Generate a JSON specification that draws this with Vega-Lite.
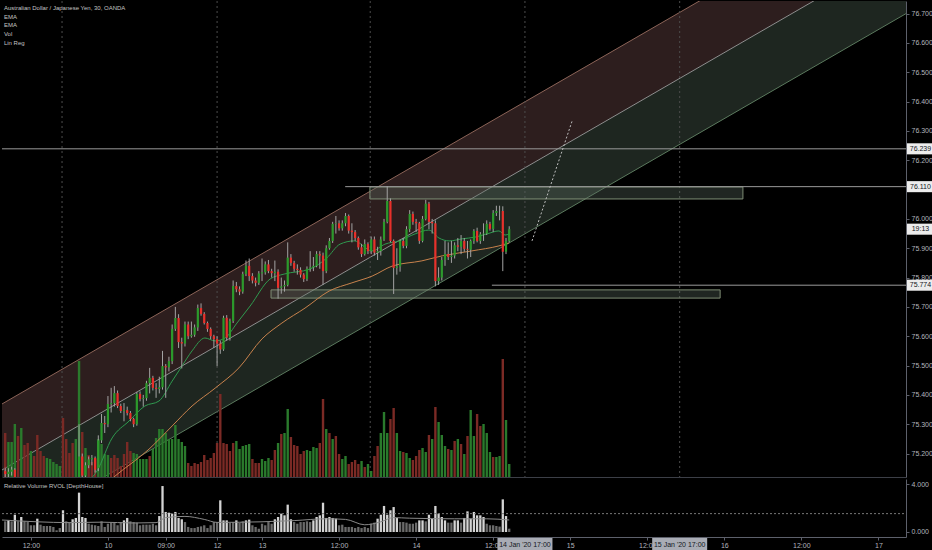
{
"$schema":"https://vega.github.io/schema/vega-lite/v6.json",
"background":"#000000",
"padding":0,
"spacing":1,
"config":{"view":{"stroke":null},"font":"Liberation Sans","scale":{"continuousPadding":0},"axis":{"labelColor":"#b2b5be","labelFontSize":7,"labelFont":"Liberation Sans","tickColor":"#5d606b","domainColor":"#5d606b","grid":false},"axisY":{"labelOverlap":false}},
"datasets":{
"k":[
{"b":0,"o":75.140,"h":75.152,"l":75.120,"c":75.130,"v":440,"d":"d","r":0.89},
{"b":1,"o":75.130,"h":75.150,"l":75.115,"c":75.138,"v":350,"d":"u","r":0.97},
{"b":2,"o":75.138,"h":75.155,"l":75.125,"c":75.145,"v":350,"d":"u","r":0.89},
{"b":3,"o":75.145,"h":75.150,"l":75.105,"c":75.110,"v":530,"d":"u","r":1.44},
{"b":4,"o":75.110,"h":75.118,"l":75.090,"c":75.095,"v":410,"d":"d","r":0.89},
{"b":5,"o":75.095,"h":75.110,"l":75.085,"c":75.105,"v":490,"d":"u","r":1.25},
{"b":6,"o":75.105,"h":75.110,"l":75.082,"c":75.090,"v":320,"d":"d","r":0.89},
{"b":7,"o":75.090,"h":75.095,"l":75.070,"c":75.078,"v":340,"d":"d","r":0.83},
{"b":8,"o":75.078,"h":75.092,"l":75.072,"c":75.088,"v":260,"d":"u","r":0.56},
{"b":9,"o":75.088,"h":75.092,"l":75.068,"c":75.075,"v":210,"d":"d","r":0.56},
{"b":10,"o":75.075,"h":75.080,"l":75.050,"c":75.058,"v":420,"d":"d","r":1.11},
{"b":11,"o":75.058,"h":75.064,"l":75.040,"c":75.048,"v":260,"d":"d","r":0.61},
{"b":12,"o":75.048,"h":75.056,"l":75.035,"c":75.042,"v":210,"d":"d","r":0.5},
{"b":13,"o":75.042,"h":75.056,"l":75.036,"c":75.050,"v":190,"d":"u","r":0.5},
{"b":14,"o":75.050,"h":75.064,"l":75.045,"c":75.058,"v":180,"d":"u","r":0.5},
{"b":15,"o":75.058,"h":75.070,"l":75.052,"c":75.064,"v":150,"d":"u","r":0.42},
{"b":16,"o":75.064,"h":75.076,"l":75.058,"c":75.070,"v":130,"d":"u","r":0.14},
{"b":17,"o":75.070,"h":75.080,"l":75.064,"c":75.074,"v":110,"d":"u","r":0.33},
{"b":18,"o":75.074,"h":75.082,"l":75.040,"c":75.050,"v":590,"d":"d","r":1.81},
{"b":19,"o":75.050,"h":75.058,"l":75.030,"c":75.040,"v":380,"d":"d","r":0.89},
{"b":20,"o":75.040,"h":75.048,"l":75.026,"c":75.035,"v":240,"d":"d","r":0.83},
{"b":21,"o":75.035,"h":75.042,"l":75.020,"c":75.030,"v":340,"d":"d","r":1.06},
{"b":22,"o":75.030,"h":75.068,"l":75.025,"c":75.060,"v":380,"d":"u","r":1.17},
{"b":23,"o":75.060,"h":75.300,"l":75.055,"c":75.190,"v":1160,"d":"u","r":3.28},
{"b":24,"o":75.190,"h":75.200,"l":75.110,"c":75.125,"v":450,"d":"d","r":1.25},
{"b":25,"o":75.125,"h":75.170,"l":75.115,"c":75.160,"v":290,"d":"u","r":1.17},
{"b":26,"o":75.160,"h":75.190,"l":75.150,"c":75.180,"v":220,"d":"d","r":0.69},
{"b":27,"o":75.180,"h":75.195,"l":75.160,"c":75.185,"v":150,"d":"d","r":0.61},
{"b":28,"o":75.185,"h":75.190,"l":75.135,"c":75.145,"v":180,"d":"d","r":0.56},
{"b":29,"o":75.150,"h":75.262,"l":75.140,"c":75.245,"v":380,"d":"u","r":0.5},
{"b":30,"o":75.245,"h":75.335,"l":75.236,"c":75.304,"v":330,"d":"u","r":0.89},
{"b":31,"o":75.304,"h":75.328,"l":75.270,"c":75.300,"v":230,"d":"u","r":0.42},
{"b":32,"o":75.300,"h":75.396,"l":75.290,"c":75.369,"v":220,"d":"u","r":0.69},
{"b":33,"o":75.369,"h":75.424,"l":75.340,"c":75.372,"v":190,"d":"d","r":0.78},
{"b":34,"o":75.372,"h":75.430,"l":75.360,"c":75.406,"v":220,"d":"d","r":0.78},
{"b":35,"o":75.406,"h":75.415,"l":75.355,"c":75.362,"v":190,"d":"d","r":0.56},
{"b":36,"o":75.362,"h":75.370,"l":75.338,"c":75.345,"v":110,"d":"d","r":0.83},
{"b":37,"o":75.345,"h":75.372,"l":75.310,"c":75.348,"v":230,"d":"d","r":0.97},
{"b":38,"o":75.348,"h":75.360,"l":75.330,"c":75.338,"v":350,"d":"d","r":1.17},
{"b":39,"o":75.338,"h":75.345,"l":75.310,"c":75.318,"v":260,"d":"d","r":0.89},
{"b":40,"o":75.318,"h":75.322,"l":75.290,"c":75.300,"v":240,"d":"u","r":0.83},
{"b":41,"o":75.300,"h":75.410,"l":75.295,"c":75.403,"v":230,"d":"u","r":0.78},
{"b":42,"o":75.403,"h":75.412,"l":75.378,"c":75.386,"v":180,"d":"u","r":0.56},
{"b":43,"o":75.386,"h":75.400,"l":75.360,"c":75.389,"v":180,"d":"u","r":0.61},
{"b":44,"o":75.389,"h":75.448,"l":75.380,"c":75.440,"v":180,"d":"u","r":0.61},
{"b":45,"o":75.440,"h":75.492,"l":75.405,"c":75.458,"v":210,"d":"d","r":0.61},
{"b":46,"o":75.458,"h":75.465,"l":75.415,"c":75.424,"v":280,"d":"u","r":0.69},
{"b":47,"o":75.424,"h":75.440,"l":75.390,"c":75.420,"v":390,"d":"u","r":0.56},
{"b":48,"o":75.420,"h":75.462,"l":75.405,"c":75.426,"v":480,"d":"u","r":1.33},
{"b":49,"o":75.426,"h":75.550,"l":75.418,"c":75.498,"v":480,"d":"u","r":3.83},
{"b":50,"o":75.498,"h":75.505,"l":75.390,"c":75.494,"v":440,"d":"u","r":1.67},
{"b":51,"o":75.494,"h":75.530,"l":75.480,"c":75.515,"v":380,"d":"u","r":1.61},
{"b":52,"o":75.515,"h":75.640,"l":75.505,"c":75.625,"v":380,"d":"u","r":1.53},
{"b":53,"o":75.625,"h":75.700,"l":75.618,"c":75.662,"v":520,"d":"u","r":1.67},
{"b":54,"o":75.662,"h":75.675,"l":75.560,"c":75.580,"v":380,"d":"u","r":1.17},
{"b":55,"o":75.580,"h":75.595,"l":75.490,"c":75.575,"v":350,"d":"u","r":1.06},
{"b":56,"o":75.575,"h":75.650,"l":75.565,"c":75.640,"v":310,"d":"u","r":0.83},
{"b":57,"o":75.640,"h":75.650,"l":75.590,"c":75.600,"v":140,"d":"d","r":0.42},
{"b":58,"o":75.600,"h":75.650,"l":75.595,"c":75.605,"v":110,"d":"d","r":0.33},
{"b":59,"o":75.605,"h":75.640,"l":75.598,"c":75.630,"v":140,"d":"d","r":0.33},
{"b":60,"o":75.630,"h":75.708,"l":75.618,"c":75.696,"v":130,"d":"d","r":0.42},
{"b":61,"o":75.696,"h":75.712,"l":75.670,"c":75.676,"v":150,"d":"d","r":0.47},
{"b":62,"o":75.676,"h":75.682,"l":75.640,"c":75.645,"v":220,"d":"d","r":0.56},
{"b":63,"o":75.645,"h":75.650,"l":75.615,"c":75.625,"v":170,"d":"d","r":0.33},
{"b":64,"o":75.625,"h":75.630,"l":75.590,"c":75.600,"v":190,"d":"d","r":0.56},
{"b":65,"o":75.600,"h":75.605,"l":75.560,"c":75.590,"v":240,"d":"d","r":0.83},
{"b":66,"o":75.590,"h":75.600,"l":75.498,"c":75.575,"v":340,"d":"d","r":0.83},
{"b":67,"o":75.575,"h":75.585,"l":75.540,"c":75.555,"v":830,"d":"d","r":2.64},
{"b":68,"o":75.555,"h":75.670,"l":75.550,"c":75.663,"v":340,"d":"d","r":0.97},
{"b":69,"o":75.663,"h":75.672,"l":75.585,"c":75.595,"v":330,"d":"d","r":0.97},
{"b":70,"o":75.595,"h":75.660,"l":75.585,"c":75.652,"v":260,"d":"d","r":0.78},
{"b":71,"o":75.652,"h":75.790,"l":75.645,"c":75.771,"v":340,"d":"d","r":0.83},
{"b":72,"o":75.771,"h":75.785,"l":75.750,"c":75.760,"v":360,"d":"u","r":0.97},
{"b":73,"o":75.760,"h":75.770,"l":75.740,"c":75.752,"v":280,"d":"u","r":0.78},
{"b":74,"o":75.752,"h":75.820,"l":75.745,"c":75.812,"v":310,"d":"u","r":0.89},
{"b":75,"o":75.812,"h":75.858,"l":75.805,"c":75.840,"v":320,"d":"u","r":0.97},
{"b":76,"o":75.840,"h":75.865,"l":75.788,"c":75.805,"v":330,"d":"u","r":1.03},
{"b":77,"o":75.805,"h":75.815,"l":75.780,"c":75.790,"v":180,"d":"d","r":0.56},
{"b":78,"o":75.790,"h":75.800,"l":75.770,"c":75.782,"v":140,"d":"d","r":0.42},
{"b":79,"o":75.782,"h":75.822,"l":75.775,"c":75.814,"v":140,"d":"d","r":0.28},
{"b":80,"o":75.814,"h":75.865,"l":75.788,"c":75.818,"v":180,"d":"u","r":0.69},
{"b":81,"o":75.818,"h":75.855,"l":75.810,"c":75.845,"v":160,"d":"u","r":0.56},
{"b":82,"o":75.845,"h":75.860,"l":75.815,"c":75.822,"v":190,"d":"u","r":0.83},
{"b":83,"o":75.822,"h":75.830,"l":75.800,"c":75.815,"v":170,"d":"d","r":0.69},
{"b":84,"o":75.815,"h":75.858,"l":75.788,"c":75.820,"v":270,"d":"d","r":1.06},
{"b":85,"o":75.820,"h":75.828,"l":75.728,"c":75.765,"v":340,"d":"u","r":1.25},
{"b":86,"o":75.765,"h":75.800,"l":75.745,"c":75.770,"v":430,"d":"d","r":1.53},
{"b":87,"o":75.770,"h":75.790,"l":75.752,"c":75.775,"v":440,"d":"u","r":1.39},
{"b":88,"o":75.775,"h":75.920,"l":75.770,"c":75.868,"v":680,"d":"u","r":2.28},
{"b":89,"o":75.868,"h":75.880,"l":75.840,"c":75.850,"v":400,"d":"d","r":1.06},
{"b":90,"o":75.850,"h":75.857,"l":75.820,"c":75.830,"v":320,"d":"d","r":0.83},
{"b":91,"o":75.830,"h":75.845,"l":75.810,"c":75.826,"v":310,"d":"d","r":0.69},
{"b":92,"o":75.826,"h":75.835,"l":75.800,"c":75.810,"v":230,"d":"d","r":0.83},
{"b":93,"o":75.810,"h":75.815,"l":75.785,"c":75.795,"v":260,"d":"d","r":0.83},
{"b":94,"o":75.795,"h":75.838,"l":75.788,"c":75.830,"v":270,"d":"u","r":0.89},
{"b":95,"o":75.830,"h":75.890,"l":75.820,"c":75.835,"v":260,"d":"u","r":0.83},
{"b":96,"o":75.835,"h":75.870,"l":75.822,"c":75.840,"v":300,"d":"u","r":0.97},
{"b":97,"o":75.840,"h":75.890,"l":75.835,"c":75.880,"v":290,"d":"u","r":1.25},
{"b":98,"o":75.880,"h":75.890,"l":75.830,"c":75.875,"v":340,"d":"d","r":1.39},
{"b":99,"o":75.875,"h":75.885,"l":75.775,"c":75.822,"v":780,"d":"d","r":2.44},
{"b":100,"o":75.822,"h":75.910,"l":75.815,"c":75.900,"v":480,"d":"u","r":1.17},
{"b":101,"o":75.900,"h":75.935,"l":75.895,"c":75.925,"v":440,"d":"d","r":1.25},
{"b":102,"o":75.925,"h":75.990,"l":75.918,"c":75.983,"v":380,"d":"u","r":1.17},
{"b":103,"o":75.983,"h":76.010,"l":75.950,"c":75.985,"v":410,"d":"d","r":1.11},
{"b":104,"o":75.985,"h":75.995,"l":75.960,"c":75.968,"v":230,"d":"d","r":0.56},
{"b":105,"o":75.968,"h":75.995,"l":75.960,"c":75.985,"v":180,"d":"u","r":0.61},
{"b":106,"o":75.985,"h":76.020,"l":75.975,"c":76.010,"v":210,"d":"u","r":0.42},
{"b":107,"o":76.010,"h":76.015,"l":75.950,"c":75.960,"v":130,"d":"d","r":0.42},
{"b":108,"o":75.960,"h":75.985,"l":75.920,"c":75.955,"v":150,"d":"d","r":0.42},
{"b":109,"o":75.955,"h":75.962,"l":75.925,"c":75.935,"v":170,"d":"d","r":0.33},
{"b":110,"o":75.935,"h":75.940,"l":75.895,"c":75.903,"v":130,"d":"d","r":0.42},
{"b":111,"o":75.903,"h":75.915,"l":75.870,"c":75.880,"v":160,"d":"u","r":0.33},
{"b":112,"o":75.880,"h":75.930,"l":75.875,"c":75.914,"v":100,"d":"d","r":0.42},
{"b":113,"o":75.914,"h":75.920,"l":75.880,"c":75.890,"v":130,"d":"u","r":0.33},
{"b":114,"o":75.890,"h":75.940,"l":75.880,"c":75.930,"v":60,"d":"u","r":0.69},
{"b":115,"o":75.930,"h":75.940,"l":75.875,"c":75.885,"v":210,"d":"d","r":0.78},
{"b":116,"o":75.885,"h":75.905,"l":75.860,"c":75.890,"v":310,"d":"d","r":1.11},
{"b":117,"o":75.890,"h":75.940,"l":75.875,"c":75.930,"v":440,"d":"u","r":1.44},
{"b":118,"o":75.930,"h":76.000,"l":75.925,"c":75.990,"v":650,"d":"u","r":2.17},
{"b":119,"o":75.990,"h":76.112,"l":75.985,"c":76.061,"v":440,"d":"u","r":1.44},
{"b":120,"o":76.061,"h":76.070,"l":75.920,"c":75.925,"v":580,"d":"d","r":1.81},
{"b":121,"o":75.925,"h":75.930,"l":75.744,"c":75.833,"v":690,"d":"d","r":2.08},
{"b":122,"o":75.833,"h":75.900,"l":75.810,"c":75.838,"v":440,"d":"u","r":1.17},
{"b":123,"o":75.838,"h":75.930,"l":75.820,"c":75.925,"v":260,"d":"u","r":0.83},
{"b":124,"o":75.925,"h":75.935,"l":75.900,"c":75.908,"v":250,"d":"d","r":0.83},
{"b":125,"o":75.908,"h":75.975,"l":75.900,"c":75.965,"v":240,"d":"u","r":0.78},
{"b":126,"o":75.965,"h":76.030,"l":75.955,"c":76.017,"v":190,"d":"u","r":0.69},
{"b":127,"o":76.017,"h":76.025,"l":75.980,"c":75.990,"v":170,"d":"d","r":0.69},
{"b":128,"o":75.990,"h":76.000,"l":75.955,"c":75.985,"v":210,"d":"d","r":0.78},
{"b":129,"o":75.985,"h":75.990,"l":75.915,"c":75.925,"v":270,"d":"d","r":0.97},
{"b":130,"o":75.925,"h":76.010,"l":75.920,"c":76.000,"v":290,"d":"u","r":0.97},
{"b":131,"o":76.000,"h":76.065,"l":75.995,"c":76.052,"v":250,"d":"u","r":0.89},
{"b":132,"o":76.052,"h":76.058,"l":75.965,"c":75.990,"v":420,"d":"d","r":1.44},
{"b":133,"o":75.990,"h":76.000,"l":75.950,"c":75.985,"v":380,"d":"u","r":1.11},
{"b":134,"o":75.985,"h":75.995,"l":75.770,"c":75.788,"v":700,"d":"d","r":2.17},
{"b":135,"o":75.788,"h":75.835,"l":75.775,"c":75.800,"v":550,"d":"u","r":1.53},
{"b":136,"o":75.800,"h":75.870,"l":75.790,"c":75.860,"v":420,"d":"u","r":1.25},
{"b":137,"o":75.860,"h":75.925,"l":75.840,"c":75.880,"v":310,"d":"u","r":0.97},
{"b":138,"o":75.880,"h":75.920,"l":75.860,"c":75.870,"v":280,"d":"d","r":0.78},
{"b":139,"o":75.870,"h":75.925,"l":75.850,"c":75.875,"v":270,"d":"u","r":0.78},
{"b":140,"o":75.875,"h":75.920,"l":75.865,"c":75.910,"v":360,"d":"d","r":0.97},
{"b":141,"o":75.910,"h":75.935,"l":75.890,"c":75.905,"v":380,"d":"u","r":0.97},
{"b":142,"o":75.905,"h":75.945,"l":75.880,"c":75.925,"v":330,"d":"d","r":0.78},
{"b":143,"o":75.925,"h":75.935,"l":75.888,"c":75.898,"v":230,"d":"u","r":1.17},
{"b":144,"o":75.898,"h":75.925,"l":75.865,"c":75.895,"v":410,"d":"d","r":1.72},
{"b":145,"o":75.895,"h":75.930,"l":75.870,"c":75.925,"v":670,"d":"u","r":1.11},
{"b":146,"o":75.925,"h":75.965,"l":75.915,"c":75.959,"v":410,"d":"u","r":1.67},
{"b":147,"o":75.959,"h":75.970,"l":75.920,"c":75.925,"v":630,"d":"d","r":1.39},
{"b":148,"o":75.925,"h":75.955,"l":75.915,"c":75.948,"v":510,"d":"d","r":1.39},
{"b":149,"o":75.948,"h":75.985,"l":75.925,"c":75.950,"v":530,"d":"u","r":1.25},
{"b":150,"o":75.950,"h":75.995,"l":75.945,"c":75.983,"v":440,"d":"u","r":0.69},
{"b":151,"o":75.983,"h":75.990,"l":75.960,"c":75.966,"v":250,"d":"u","r":0.56},
{"b":152,"o":75.966,"h":76.030,"l":75.955,"c":76.020,"v":200,"d":"d","r":0.56},
{"b":153,"o":76.020,"h":76.045,"l":76.010,"c":76.027,"v":200,"d":"u","r":0.5},
{"b":154,"o":76.027,"h":76.045,"l":75.995,"c":76.027,"v":210,"d":"u","r":0.45},
{"b":155,"o":76.027,"h":76.043,"l":75.822,"c":75.888,"v":1180,"d":"d","r":2.72},
{"b":156,"o":75.888,"h":75.935,"l":75.880,"c":75.925,"v":570,"d":"u","r":1.33},
{"b":157,"o":75.925,"h":75.975,"l":75.920,"c":75.965,"v":130,"d":"u","r":0.28}
],
"ch":[{"b":-1,"u":75.369,"m":75.144,"lo":74.919},{"b":280.6,"u":77.150,"m":76.925,"lo":76.700}],
"ef":[{"b":-1,"e":75.09},{"b":12,"e":75.07},{"b":20,"e":75.06},{"b":25,"e":75.095},{"b":28.6,"e":75.141},{"b":33.3,"e":75.253},{"b":38.6,"e":75.311},{"b":43.5,"e":75.362},{"b":47.9,"e":75.379},{"b":52,"e":75.447},{"b":55.1,"e":75.499},{"b":58.2,"e":75.55},{"b":62.2,"e":75.594},{"b":65.4,"e":75.584},{"b":68.5,"e":75.594},{"b":72.2,"e":75.645},{"b":76.3,"e":75.703},{"b":82.5,"e":75.795},{"b":86.9,"e":75.812},{"b":94.9,"e":75.829},{"b":100.2,"e":75.867},{"b":104.3,"e":75.914},{"b":108.7,"e":75.925},{"b":114.3,"e":75.891},{"b":118.3,"e":75.914},{"b":122.7,"e":75.925},{"b":127.7,"e":75.949},{"b":132,"e":75.962},{"b":135.1,"e":75.935},{"b":138.3,"e":75.925},{"b":142.3,"e":75.932},{"b":146.4,"e":75.938},{"b":150.1,"e":75.949},{"b":153.8,"e":75.959},{"b":155.7,"e":75.945},{"b":157,"e":75.949}],
"es":[{"b":-1,"e":74.9},{"b":20,"e":74.98},{"b":34.2,"e":75.123},{"b":44.8,"e":75.215},{"b":52,"e":75.294},{"b":58.2,"e":75.362},{"b":65.4,"e":75.423},{"b":72.8,"e":75.492},{"b":80,"e":75.591},{"b":86.2,"e":75.645},{"b":93.4,"e":75.696},{"b":100.9,"e":75.754},{"b":108,"e":75.782},{"b":114.3,"e":75.805},{"b":120.5,"e":75.839},{"b":129.8,"e":75.857},{"b":136.1,"e":75.874},{"b":145.4,"e":75.891},{"b":153.8,"e":75.908},{"b":157,"e":75.918}],
"hl":[{"b":-1,"p":76.239},{"b":105.9,"p":76.110},{"b":151.6,"p":75.774}],
"bx":[{"p":76.239,"t":"76.239"},{"p":76.110,"t":"76.110"},{"p":75.965,"t":"19:13"},{"p":75.774,"t":"75.774"}],
"rc":[{"b":113.6,"b2":229.8,"p":76.109,"p2":76.068},{"b":82.8,"b2":222.7,"p":75.758,"p2":75.730}],
"pj":[{"b":164.1,"p":75.925},{"b":176.6,"p":76.334}],
"ss":[{"b":17.7},{"b":66},{"b":113.7},{"b":161.9},{"b":210.1}],
"rva":[{"b":-1,"a":1.0},{"b":10,"a":0.85},{"b":20,"a":0.78},{"b":30,"a":0.82},{"b":40,"a":0.75},{"b":47,"a":0.78},{"b":50,"a":1.2},{"b":56,"a":1.3},{"b":62,"a":1.05},{"b":66,"a":0.8},{"b":80,"a":0.85},{"b":90,"a":0.95},{"b":100,"a":1.1},{"b":106,"a":1.05},{"b":112,"a":0.6},{"b":117,"a":0.85},{"b":121,"a":1.2},{"b":126,"a":1.15},{"b":140,"a":1.1},{"b":150,"a":1.1},{"b":157,"a":1.0}],
"db":[{"b":161.9,"t":"14 Jan '20    17:00"},{"b":210.1,"t":"15 Jan '20    17:00"}]
},
"resolve":{"scale":{"x":"independent","y":"independent"}},
"vconcat":[
{
"width":904,"height":476,
"resolve":{"scale":{"y":"independent"}},
"layer":[
{"layer":[
{"data":{"name":"ch"},"mark":{"type":"area","clip":true,"color":"#2d1e1e","opacity":1},"encoding":{"x":{"field":"b","type":"quantitative","scale":{"domain":[-1,280.6],"nice":false,"zero":false,"padding":0},"axis":{"labels":false,"ticks":false,"domainColor":"#3c3f47","title":null}},"y":{"field":"u","type":"quantitative","scale":{"domain":[75.12,76.743],"nice":false,"zero":false},"axis":null},"y2":{"field":"m"}}},
{"data":{"name":"ch"},"mark":{"type":"area","clip":true,"color":"#1e2620","opacity":1},"encoding":{"x":{"field":"b","type":"quantitative","scale":{"domain":[-1,280.6],"nice":false,"zero":false,"padding":0},"axis":{"labels":false,"ticks":false,"domainColor":"#3c3f47","title":null}},"y":{"field":"m","type":"quantitative","axis":null},"y2":{"field":"lo"}}},
{"data":{"name":"ch"},"mark":{"type":"line","clip":true,"color":"#8c6458","strokeWidth":1},"encoding":{"x":{"field":"b","type":"quantitative","scale":{"domain":[-1,280.6],"nice":false,"zero":false,"padding":0},"axis":{"labels":false,"ticks":false,"domainColor":"#3c3f47","title":null}},"y":{"field":"u","type":"quantitative","axis":null}}},
{"data":{"name":"ch"},"mark":{"type":"line","clip":true,"color":"#8f8f8f","strokeWidth":1},"encoding":{"x":{"field":"b","type":"quantitative","scale":{"domain":[-1,280.6],"nice":false,"zero":false,"padding":0},"axis":{"labels":false,"ticks":false,"domainColor":"#3c3f47","title":null}},"y":{"field":"m","type":"quantitative","axis":null}}},
{"data":{"name":"ch"},"mark":{"type":"line","clip":true,"color":"#5b7a5e","strokeWidth":1},"encoding":{"x":{"field":"b","type":"quantitative","scale":{"domain":[-1,280.6],"nice":false,"zero":false,"padding":0},"axis":{"labels":false,"ticks":false,"domainColor":"#3c3f47","title":null}},"y":{"field":"lo","type":"quantitative","axis":null}}},
{"data":{"name":"ss"},"mark":{"type":"rule","color":"#4d4d4d","strokeDash":[2,3],"strokeWidth":1},"encoding":{"x":{"field":"b","type":"quantitative","scale":{"domain":[-1,280.6],"nice":false,"zero":false,"padding":0},"axis":{"labels":false,"ticks":false,"domainColor":"#3c3f47","title":null}}}}
]},
{"data":{"name":"k"},"mark":{"type":"bar","size":2.4,"orient":"vertical"},"encoding":{"x":{"field":"b","type":"quantitative","scale":{"domain":[-1,280.6],"nice":false,"zero":false,"padding":0},"axis":{"labels":false,"ticks":false,"domainColor":"#3c3f47","title":null}},"y":{"field":"v","type":"quantitative","scale":{"domain":[0,4760],"nice":false},"axis":null},"color":{"condition":{"test":"datum.d=='u'","value":"#2a7a2c"},"value":"#7b2a25"}}},
{"layer":[
{"data":{"name":"rc"},"mark":{"type":"rect","fill":"#5d6e60","fillOpacity":0.35,"stroke":"#7e8d74","strokeWidth":1},"encoding":{"x":{"field":"b","type":"quantitative","scale":{"domain":[-1,280.6],"nice":false,"zero":false,"padding":0},"axis":{"labels":false,"ticks":false,"domainColor":"#3c3f47","title":null}},"x2":{"field":"b2"},"y":{"field":"p","type":"quantitative","scale":{"domain":[75.12,76.743],"nice":false,"zero":false},"axis":{"orient":"right","title":null,"values":[75.2,75.3,75.4,75.5,75.6,75.7,75.8,75.9,76.0,76.1,76.2,76.3,76.4,76.5,76.6,76.7],"format":".3f","tickSize":3,"labelPadding":2,"labelOverlap":false}},"y2":{"field":"p2"}}},
{"data":{"name":"hl"},"mark":{"type":"rule","color":"#9a9a9a","strokeWidth":1},"encoding":{"x":{"field":"b","type":"quantitative","scale":{"domain":[-1,280.6],"nice":false,"zero":false,"padding":0},"axis":{"labels":false,"ticks":false,"domainColor":"#3c3f47","title":null}},"x2":{"datum":280.6},"y":{"field":"p","type":"quantitative","axis":{"orient":"right","title":null,"values":[75.2,75.3,75.4,75.5,75.6,75.7,75.8,75.9,76.0,76.1,76.2,76.3,76.4,76.5,76.6,76.7],"format":".3f","tickSize":3,"labelPadding":2,"labelOverlap":false}}}},
{"data":{"name":"es"},"mark":{"type":"line","clip":true,"color":"#c8824c","strokeWidth":1,"interpolate":"monotone"},"encoding":{"x":{"field":"b","type":"quantitative","scale":{"domain":[-1,280.6],"nice":false,"zero":false,"padding":0},"axis":{"labels":false,"ticks":false,"domainColor":"#3c3f47","title":null}},"y":{"field":"e","type":"quantitative","axis":{"orient":"right","title":null,"values":[75.2,75.3,75.4,75.5,75.6,75.7,75.8,75.9,76.0,76.1,76.2,76.3,76.4,76.5,76.6,76.7],"format":".3f","tickSize":3,"labelPadding":2,"labelOverlap":false}}}},
{"data":{"name":"ef"},"mark":{"type":"line","clip":true,"color":"#2f9a4f","strokeWidth":1,"interpolate":"monotone"},"encoding":{"x":{"field":"b","type":"quantitative","scale":{"domain":[-1,280.6],"nice":false,"zero":false,"padding":0},"axis":{"labels":false,"ticks":false,"domainColor":"#3c3f47","title":null}},"y":{"field":"e","type":"quantitative","axis":{"orient":"right","title":null,"values":[75.2,75.3,75.4,75.5,75.6,75.7,75.8,75.9,76.0,76.1,76.2,76.3,76.4,76.5,76.6,76.7],"format":".3f","tickSize":3,"labelPadding":2,"labelOverlap":false}}}},
{"data":{"name":"k"},"mark":{"type":"rule","clip":true,"color":"#a3a3a3","strokeWidth":1},"encoding":{"x":{"field":"b","type":"quantitative","scale":{"domain":[-1,280.6],"nice":false,"zero":false,"padding":0},"axis":{"labels":false,"ticks":false,"domainColor":"#3c3f47","title":null}},"y":{"field":"l","type":"quantitative","axis":{"orient":"right","title":null,"values":[75.2,75.3,75.4,75.5,75.6,75.7,75.8,75.9,76.0,76.1,76.2,76.3,76.4,76.5,76.6,76.7],"format":".3f","tickSize":3,"labelPadding":2,"labelOverlap":false}},"y2":{"field":"h"}}},
{"data":{"name":"k"},"mark":{"type":"bar","size":2.2,"orient":"vertical","clip":true},"encoding":{"x":{"field":"b","type":"quantitative","scale":{"domain":[-1,280.6],"nice":false,"zero":false,"padding":0},"axis":{"labels":false,"ticks":false,"domainColor":"#3c3f47","title":null}},"y":{"field":"o","type":"quantitative","axis":{"orient":"right","title":null,"values":[75.2,75.3,75.4,75.5,75.6,75.7,75.8,75.9,76.0,76.1,76.2,76.3,76.4,76.5,76.6,76.7],"format":".3f","tickSize":3,"labelPadding":2,"labelOverlap":false}},"y2":{"field":"c"},"color":{"condition":{"test":"datum.c>=datum.o","value":"#2b9a2b"},"value":"#e8302a"}}},
{"data":{"name":"pj"},"mark":{"type":"line","color":"#bdbdbd","strokeWidth":1,"strokeDash":[2,2]},"encoding":{"x":{"field":"b","type":"quantitative","scale":{"domain":[-1,280.6],"nice":false,"zero":false,"padding":0},"axis":{"labels":false,"ticks":false,"domainColor":"#3c3f47","title":null}},"y":{"field":"p","type":"quantitative","axis":{"orient":"right","title":null,"values":[75.2,75.3,75.4,75.5,75.6,75.7,75.8,75.9,76.0,76.1,76.2,76.3,76.4,76.5,76.6,76.7],"format":".3f","tickSize":3,"labelPadding":2,"labelOverlap":false}}}},
{"data":{"values":[{"n":1}]},"mark":{"type":"text","align":"left","baseline":"top","fontSize":6,"color":"#c4c4c4","lineHeight":8.7,"dy":4},"encoding":{"x":{"datum":-0.4,"type":"quantitative","axis":{"labels":false,"ticks":false,"domainColor":"#3c3f47","title":null}},"y":{"datum":76.743,"type":"quantitative","axis":{"orient":"right","title":null,"values":[75.2,75.3,75.4,75.5,75.6,75.7,75.8,75.9,76.0,76.1,76.2,76.3,76.4,76.5,76.6,76.7],"format":".3f","tickSize":3,"labelPadding":2,"labelOverlap":false}},"text":{"value":["Australian Dollar / Japanese Yen, 30, OANDA","EMA","EMA","Vol","Lin Reg"]}}},
{"data":{"name":"bx"},"mark":{"type":"point","shape":"M-1,-0.41H1V0.41H-1Z","filled":true,"size":729,"color":"#ececec","opacity":1},"encoding":{"x":{"datum":285.1,"type":"quantitative","axis":{"labels":false,"ticks":false,"domainColor":"#3c3f47","title":null}},"y":{"field":"p","type":"quantitative","axis":{"orient":"right","title":null,"values":[75.2,75.3,75.4,75.5,75.6,75.7,75.8,75.9,76.0,76.1,76.2,76.3,76.4,76.5,76.6,76.7],"format":".3f","tickSize":3,"labelPadding":2,"labelOverlap":false}}}},
{"data":{"name":"bx"},"mark":{"type":"text","fontSize":7,"color":"#131722","align":"center","baseline":"middle"},"encoding":{"x":{"datum":285.1,"type":"quantitative","axis":{"labels":false,"ticks":false,"domainColor":"#3c3f47","title":null}},"y":{"field":"p","type":"quantitative","axis":{"orient":"right","title":null,"values":[75.2,75.3,75.4,75.5,75.6,75.7,75.8,75.9,76.0,76.1,76.2,76.3,76.4,76.5,76.6,76.7],"format":".3f","tickSize":3,"labelPadding":2,"labelOverlap":false}},"text":{"field":"t"}}}
]}
]
},
{
"width":904,"height":58,
"layer":[
{"data":{"name":"k"},"mark":{"type":"bar","size":2.3,"orient":"vertical"},"encoding":{"x":{"field":"b","type":"quantitative","scale":{"domain":[-1,280.6],"nice":false,"zero":false,"padding":0},"axis":{"values":[8,32,50,66,80,104,128,152,176,200,224,248,272],"labelExpr":"['12:00','10','09:00','12','13','12:00','14','12:00','15','12:00','16','12:00','17'][indexof([8,32,50,66,80,104,128,152,176,200,224,248,272], datum.value)]","tickSize":3,"labelPadding":1,"labelOverlap":false,"labelFlush":false,"title":null}},"y":{"field":"r","type":"quantitative","scale":{"domain":[-0.417,4.417],"nice":false,"zero":false},"axis":{"orient":"right","title":null,"values":[0,2,4],"format":".3f","tickSize":3,"labelPadding":2,"labelOverlap":false}},"y2":{"datum":0},"color":{"condition":{"test":"datum.r>=0.9","value":"#d4d4d4"},"value":"#6a6a6a"}}},
{"data":{"name":"rva"},"mark":{"type":"line","color":"#8a8a8a","strokeWidth":1,"interpolate":"monotone"},"encoding":{"x":{"field":"b","type":"quantitative","axis":{"title":null}},"y":{"field":"a","type":"quantitative","axis":{"orient":"right","title":null}}}},
{"data":{"values":[{"b":-1}]},"mark":{"type":"rule","color":"#777777","strokeDash":[2,2],"strokeWidth":1},"encoding":{"x":{"field":"b","type":"quantitative","axis":{"title":null}},"x2":{"datum":280.6},"y":{"datum":1.53,"type":"quantitative","axis":{"orient":"right","title":null}}}},
{"data":{"values":[{"n":1}]},"mark":{"type":"text","align":"left","baseline":"top","fontSize":6,"color":"#c4c4c4","dy":4},"encoding":{"x":{"datum":-0.4,"type":"quantitative","axis":{"title":null}},"y":{"datum":4.417,"type":"quantitative","axis":{"orient":"right","title":null}},"text":{"value":"Relative Volume RVOL [DepthHouse]"}}},
{"data":{"name":"db"},"mark":{"type":"point","shape":"M-1,-0.2545H1V0.2545H-1Z","filled":true,"size":3025,"color":"#a9acb5","opacity":1},"encoding":{"x":{"field":"b","type":"quantitative","axis":{"title":null}},"y":{"datum":-1.084,"type":"quantitative","axis":{"orient":"right","title":null}}}},
{"data":{"name":"db"},"mark":{"type":"text","fontSize":7,"color":"#131722","align":"center","baseline":"middle"},"encoding":{"x":{"field":"b","type":"quantitative","axis":{"title":null}},"y":{"datum":-1.084,"type":"quantitative","axis":{"orient":"right","title":null}},"text":{"field":"t"}}}
]
}
]
}
